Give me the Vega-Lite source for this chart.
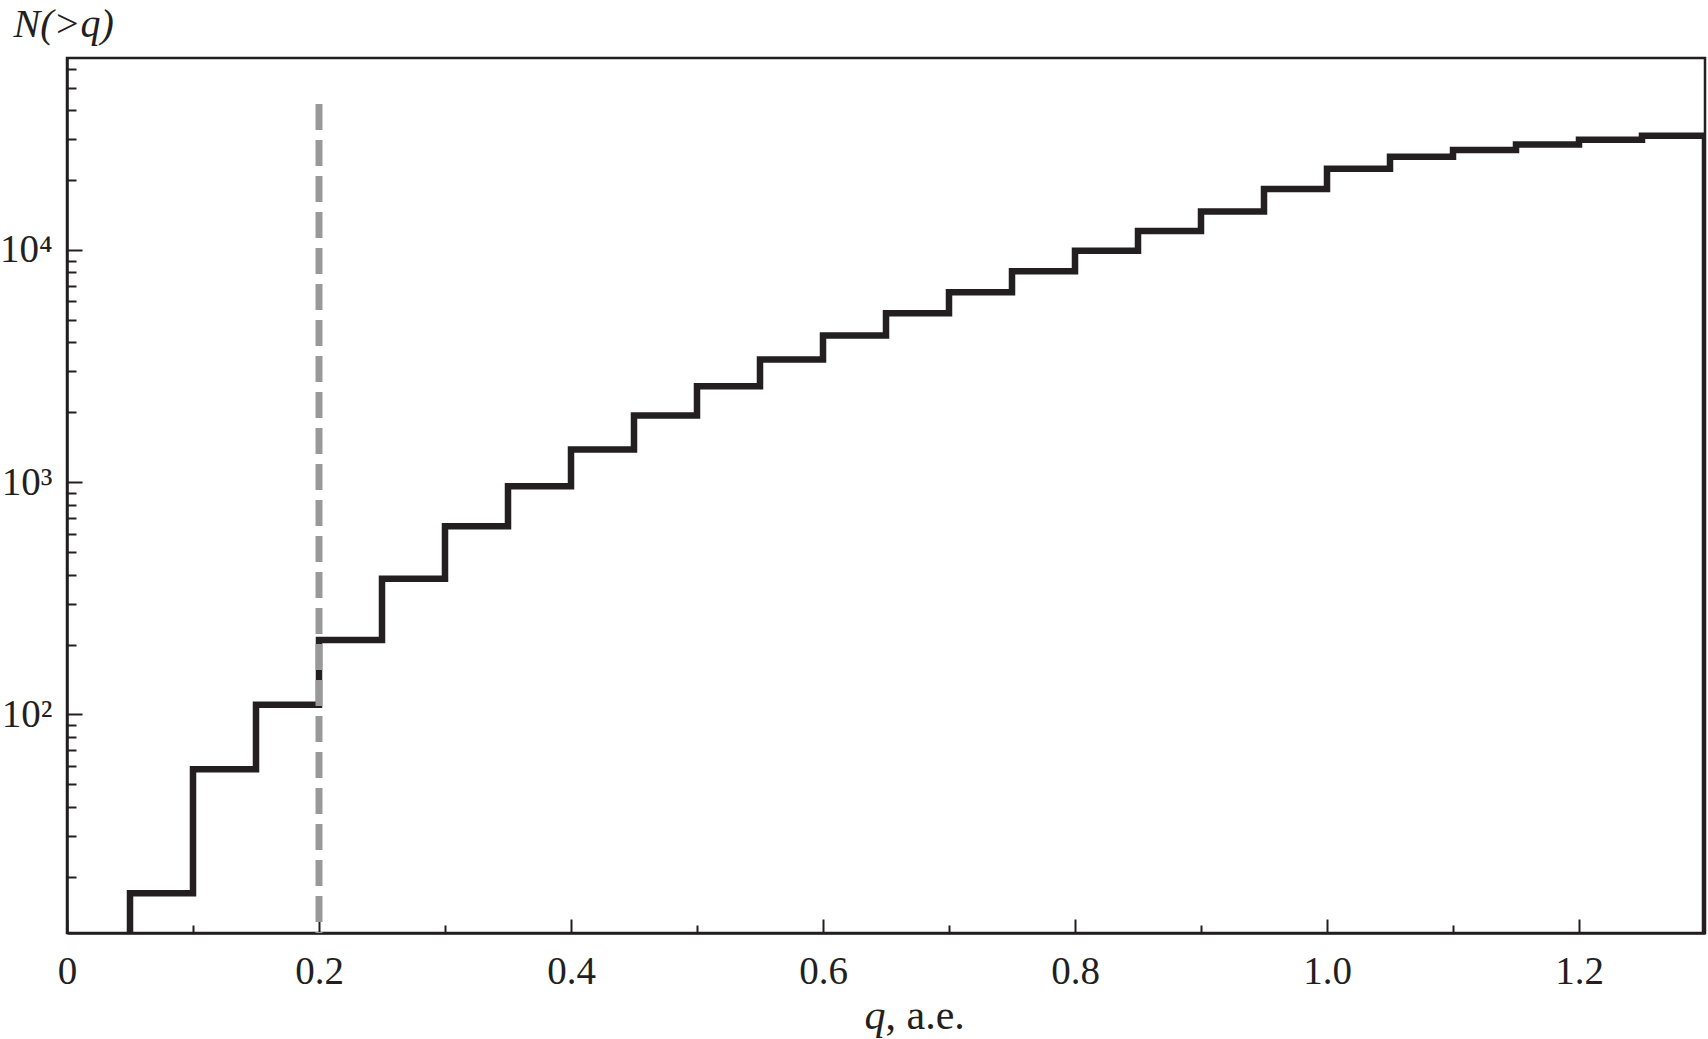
{
  "$schema": "https://vega.github.io/schema/vega-lite/v6.json",
  "width": 1638,
  "height": 875,
  "autosize": "none",
  "padding": {"left": 67, "top": 58, "right": 3, "bottom": 106},
  "background": "white",
  "config": {
    "view": {"stroke": "#231f20", "strokeWidth": 2.5},
    "axis": {
      "grid": false,
      "domainColor": "#231f20",
      "domainWidth": 2.5,
      "tickColor": "#231f20",
      "tickWidth": 2,
      "labelFont": "Liberation Serif",
      "labelFontSize": 39,
      "labelColor": "#231f20",
      "titleFont": "Liberation Serif",
      "titleFontWeight": "normal",
      "titleColor": "#231f20",
      "titleFontSize": 42
    }
  },
  "datasets": {
    "steps": [
      {"i": 0, "q": 0.05, "N": 10},
      {"i": 1, "q": 0.05, "N": 17},
      {"i": 2, "q": 0.10, "N": 58},
      {"i": 3, "q": 0.15, "N": 110},
      {"i": 4, "q": 0.20, "N": 209},
      {"i": 5, "q": 0.25, "N": 384},
      {"i": 6, "q": 0.30, "N": 646},
      {"i": 7, "q": 0.35, "N": 961},
      {"i": 8, "q": 0.40, "N": 1383},
      {"i": 9, "q": 0.45, "N": 1936},
      {"i": 10, "q": 0.50, "N": 2590},
      {"i": 11, "q": 0.55, "N": 3373},
      {"i": 12, "q": 0.60, "N": 4280},
      {"i": 13, "q": 0.65, "N": 5340},
      {"i": 14, "q": 0.70, "N": 6573},
      {"i": 15, "q": 0.75, "N": 8092},
      {"i": 16, "q": 0.80, "N": 9931},
      {"i": 17, "q": 0.85, "N": 12070},
      {"i": 18, "q": 0.90, "N": 14650},
      {"i": 19, "q": 0.95, "N": 18300},
      {"i": 20, "q": 1.00, "N": 22390},
      {"i": 21, "q": 1.05, "N": 25210},
      {"i": 22, "q": 1.10, "N": 26940},
      {"i": 23, "q": 1.15, "N": 28450},
      {"i": 24, "q": 1.20, "N": 29840},
      {"i": 25, "q": 1.25, "N": 31050},
      {"i": 26, "q": 1.30, "N": 31050},
      {"i": 27, "q": 1.30, "N": 10}
    ],
    "cut": [
      {"q": 0.2, "lo": 11.45, "hi": 42500}
    ]
  },
  "layer": [
    {
      "data": {"name": "steps"},
      "mark": {"type": "line", "interpolate": "step-after", "color": "#231f20", "strokeWidth": 6.5, "strokeJoin": "miter", "strokeCap": "butt", "clip": true},
      "encoding": {
        "x": {
          "field": "q", "type": "quantitative",
          "scale": {"domain": [0, 1.3], "nice": false, "zero": false},
          "axis": {
            "orient": "bottom",
            "values": [0, 0.2, 0.4, 0.6, 0.8, 1.0, 1.2],
            "tickSize": -14,
            "labelPadding": 33,
            "labelFlush": false,
            "labelOverlap": false,
            "labelExpr": "datum.value == 0 ? '0' : format(datum.value, '.1f')",
            "title": "q",
            "titleFontStyle": "italic",
            "titleX": 797,
            "titleY": 95,
            "titleAlign": "left",
            "titleAnchor": null,
            "titleBaseline": "alphabetic"
          }
        },
        "y": {
          "field": "N", "type": "quantitative",
          "scale": {"type": "log", "domain": [11.45, 67070], "nice": false},
          "axis": {
            "orient": "left",
            "values": [100, 1000, 10000],
            "tickSize": -15,
            "labelPadding": 30,
            "labelOverlap": false,
            "labelFlush": false,
            "labelExpr": "datum.value == 100 ? '10²' : datum.value == 1000 ? '10³' : '10⁴'",
            "title": "N(>q)",
            "titleFontStyle": "italic",
            "titleFontSize": 40,
            "titleAngle": 0,
            "titleX": -54,
            "titleY": -22,
            "titleAlign": "left",
            "titleBaseline": "alphabetic"
          }
        },
        "order": {"field": "i", "type": "quantitative"}
      }
    },
    {
      "data": {"name": "cut"},
      "mark": {"type": "rule", "color": "#999999", "strokeWidth": 7, "strokeDash": [26, 10], "strokeCap": "butt"},
      "encoding": {
        "x": {
          "field": "q", "type": "quantitative",
          "axis": {
            "orient": "bottom",
            "values": [0.1, 0.3, 0.5, 0.7, 0.9, 1.1],
            "tickSize": -8,
            "labels": false,
            "domain": false,
            "title": ", a.e.",
            "titleX": 818,
            "titleY": 95,
            "titleAlign": "left",
            "titleAnchor": null,
            "titleBaseline": "alphabetic"
          }
        },
        "y": {
          "field": "hi", "type": "quantitative",
          "axis": {
            "orient": "left",
            "values": [20, 30, 40, 50, 60, 70, 80, 90, 200, 300, 400, 500, 600, 700, 800, 900, 2000, 3000, 4000, 5000, 6000, 7000, 8000, 9000, 20000, 30000, 40000, 50000, 60000],
            "tickSize": -9,
            "labels": false,
            "domain": false,
            "title": null
          }
        },
        "y2": {"field": "lo"}
      }
    }
  ],
  "resolve": {"axis": {"x": "independent", "y": "independent"}}
}
